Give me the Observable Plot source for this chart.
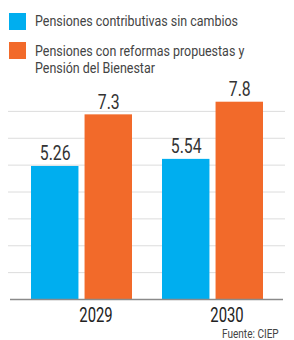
<!DOCTYPE html>
<html>
<head>
<meta charset="utf-8">
<script src="https://cdn.jsdelivr.net/npm/d3@7"></script>
<script src="https://cdn.jsdelivr.net/npm/@observablehq/plot@0.6"></script>
<style>
  html, body { margin: 0; padding: 0; background: #fff; }
  #wrap { position: relative; width: 294px; height: 340px; overflow: hidden;
    font-family: Roboto, "DejaVu Sans Condensed", sans-serif; }
  .sw { position: absolute; left: 9px; width: 17px; height: 17px; }
  .lt { position: absolute; left: 35px; font-size: 15.5px; line-height: 17px; color: #444; white-space: nowrap; transform-origin: 0 0; }
  #src { position: absolute; left: 222px; top: 327px; font-size: 12.5px; line-height: 13px; color: #444; white-space: nowrap; transform-origin: 0 0; }
  #chart { position: absolute; left: 0; top: 0; }
</style>
</head>
<body>
<div id="wrap">
  <div id="chart"></div>
  <div id="legend"></div>
  <div id="src"></div>
</div>
<script>
const years = ["2029", "2030"];
const seriesNames = ["Pensiones contributivas sin cambios", "Pensiones con reformas propuestas y\nPensión del Bienestar"];
const seriesColors = ["#00AEEF", "#F26A2A"];
const sinCambios = [5.26, 5.54];
const conReformas = [7.3, 7.8];
const gridTicks = [1.0625, 2.125, 3.1875, 4.25, 5.3125, 6.375, 7.4375];
const sourceText = "Fuente: CIEP";

const W = 294, H = 340;
const mL = 10, mR = 11, mT = 84, mB = 41;
const padInner = 0.23, padOuter = 0.15;
const step = (W - mL - mR) / (years.length - padInner + 2 * padOuter);
const bw = step * (1 - padInner);
const barW = 48;
const inset = bw - barW;
const off = bw / 2 - barW / 2;

const dataA = years.map((y, i) => ({year: y, value: sinCambios[i]}));
const dataB = years.map((y, i) => ({year: y, value: conReformas[i]}));

const font = 'Roboto, "DejaVu Sans Condensed", sans-serif';

const plot = Plot.plot({
  width: W, height: H,
  marginTop: mT, marginBottom: mB, marginLeft: mL, marginRight: mR,
  style: {fontFamily: font, background: "transparent"},
  x: {domain: years, paddingInner: padInner, paddingOuter: padOuter, axis: null},
  y: {domain: [0, 8.5], axis: null},
  marks: [
    Plot.ruleY(gridTicks, {stroke: "#dcdcdc", strokeWidth: 1, insetLeft: -2, insetRight: -2}),
    Plot.barY(dataA, {x: "year", y: "value", fill: seriesColors[0], insetRight: inset}),
    Plot.barY(dataB, {x: "year", y: "value", fill: seriesColors[1], insetLeft: inset}),
    Plot.ruleY([0], {stroke: "#8a8a8a", strokeWidth: 1.5}),
    Plot.text(dataA, {x: "year", y: "value", text: d => String(d.value), dx: -off, dy: -6, lineAnchor: "bottom", fontSize: 19.5, fill: "#333", className: "vals"}),
    Plot.text(dataB, {x: "year", y: "value", text: d => String(d.value), dx: off, dy: -6, lineAnchor: "bottom", fontSize: 19.5, fill: "#333", className: "vals"}),
    Plot.axisX({tickSize: 0, tickPadding: 8, fontSize: 20, dx: 14, label: null, color: "#222", className: "years"})
  ]
});
document.getElementById("chart").appendChild(plot);

function squeeze(sel, k) {
  plot.querySelectorAll(sel).forEach(t => {
    const L = t.getComputedTextLength();
    t.setAttribute("textLength", L * k);
    t.setAttribute("lengthAdjust", "spacingAndGlyphs");
  });
}
squeeze(".vals text", 0.81);
squeeze(".years text", 0.74);

const legend = document.getElementById("legend");
const swTops = [12.5, 42];
const textTops = [13.4, 43.4];
seriesNames.forEach((name, i) => {
  const sw = document.createElement("div");
  sw.className = "sw";
  sw.style.top = swTops[i] + "px";
  sw.style.background = seriesColors[i];
  legend.appendChild(sw);
  const t = document.createElement("div");
  t.className = "lt";
  t.style.top = textTops[i] + "px";
  t.innerHTML = name.split("\n").join("<br>");
  legend.appendChild(t);
});
const first = legend.querySelector(".lt");
const s = 203 / first.getBoundingClientRect().width;
legend.querySelectorAll(".lt").forEach(t => { t.style.transform = `scaleX(${s})`; });
const src = document.getElementById("src");
src.textContent = sourceText;
src.style.transform = `scaleX(${s})`;
</script>
</body>
</html>
